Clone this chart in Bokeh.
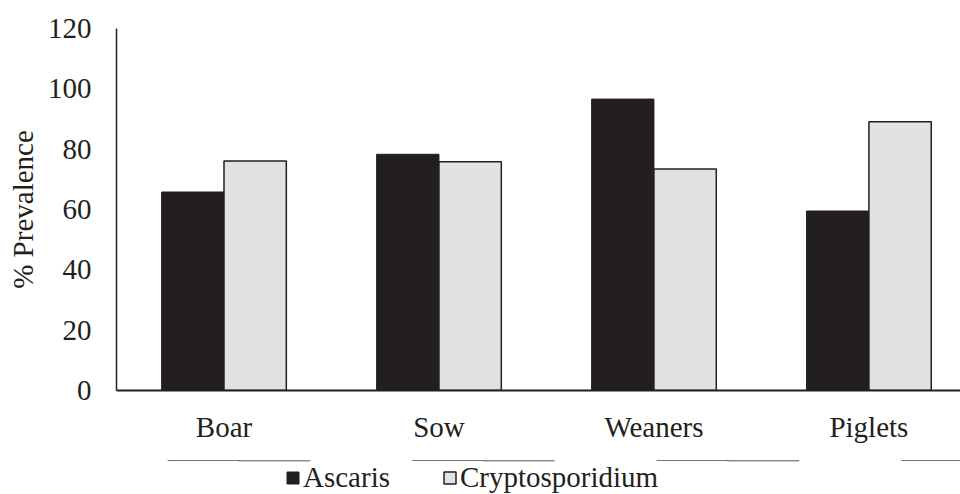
from bokeh.plotting import figure
from bokeh.layouts import column
from bokeh.models import ColumnDataSource, Range1d, FixedTicker, Legend, LegendItem
from bokeh.embed import file_html
from bokeh.resources import INLINE

# Prevalence (%) by pig age group
groups = ["Boar", "Sow", "Weaners", "Piglets"]
ascaris = [65.8, 78.3, 96.6, 59.5]
cryptosporidium = [76.1, 75.8, 73.4, 89.1]
y_ticks = [0, 20, 40, 60, 80, 100, 120]
series_names = ["Ascaris", "Cryptosporidium"]

FONT = "Liberation Serif"
DARK = "#231f20"
LIGHT = "#e1e2e4"

centers = [i + 0.5 for i in range(len(groups))]
bar_w = 0.29
src = ColumnDataSource(dict(
    xa=[c - bar_w / 2 for c in centers],
    xc=[c + bar_w / 2 for c in centers],
    ascaris=ascaris,
    crypto=cryptosporidium,
))

p = figure(frame_width=844, frame_height=362, output_backend="svg", toolbar_location=None,
           x_range=Range1d(0, 3.926), y_range=Range1d(0, 120),
           min_border_left=116, min_border_right=0, min_border_top=28,
           min_border_bottom=70)

bar_a = dict(fill_color=DARK, line_color=DARK, line_width=1)
bar_c = dict(fill_color=LIGHT, line_color=DARK, line_width=1.5)
p.vbar(x="xa", top="ascaris", width=bar_w, source=src, **bar_a)
p.vbar(x="xc", top="crypto", width=bar_w, source=src, **bar_c)

p.grid.visible = False
p.outline_line_color = None
p.background_fill_color = "white"
p.border_fill_color = "white"

# y axis
p.yaxis.ticker = FixedTicker(ticks=y_ticks)
p.yaxis.major_tick_out = 0
p.yaxis.major_tick_in = 0
p.yaxis.minor_tick_out = 0
p.yaxis.minor_tick_in = 0
p.yaxis.axis_line_color = DARK
p.yaxis.axis_line_width = 1.5
p.yaxis.major_label_text_font = FONT
p.yaxis.major_label_text_font_size = "29px"
p.yaxis.major_label_text_color = DARK
p.yaxis.major_label_standoff = 25
p.yaxis.axis_label = "% Prevalence"
p.yaxis.axis_label_text_font = FONT
p.yaxis.axis_label_text_font_size = "29px"
p.yaxis.axis_label_text_font_style = "normal"
p.yaxis.axis_label_text_color = DARK
p.yaxis.axis_label_standoff = 6

# x axis with group names
p.xaxis.ticker = FixedTicker(ticks=centers)
p.xaxis.major_label_overrides = {c: g for c, g in zip(centers, groups)}
p.xaxis.major_tick_out = 0
p.xaxis.major_tick_in = 0
p.xaxis.minor_tick_out = 0
p.xaxis.minor_tick_in = 0
p.xaxis.axis_line_color = DARK
p.xaxis.axis_line_width = 2
p.xaxis.major_label_text_font = FONT
p.xaxis.major_label_text_font_size = "29px"
p.xaxis.major_label_text_color = DARK
p.xaxis.major_label_standoff = 20

# legend strip beneath the chart; its key renderers share the bar data but
# the strip's y range lies far below zero so the bars and their outlines
# stay well off the canvas
leg = figure(frame_width=960, frame_height=34, output_backend="svg", toolbar_location=None,
             x_range=Range1d(0, 3.926), y_range=Range1d(-1000, -999),
             x_axis_location=None, y_axis_location=None,
             min_border_left=0, min_border_right=0, min_border_top=0, min_border_bottom=0)
leg.grid.visible = False
leg.outline_line_color = None
leg.background_fill_color = "white"
leg.border_fill_color = "white"
key_a = leg.vbar(x="xa", top="ascaris", width=bar_w, source=src, **bar_a)
key_c = leg.vbar(x="xc", top="crypto", width=bar_w, source=src, **bar_c)

legend = Legend(items=[LegendItem(label=series_names[0], renderers=[key_a]),
                       LegendItem(label=series_names[1], renderers=[key_c])],
                orientation="horizontal", location=(285, 0),
                label_text_font=FONT, label_text_font_size="29px",
                label_text_color=DARK, glyph_width=15, glyph_height=15,
                label_standoff=3, spacing=52, padding=0, margin=0,
                border_line_color=None, background_fill_alpha=0)
leg.add_layout(legend, "center")

layout = column(p, leg, spacing=0)
open("out.html", "w").write(file_html(layout, INLINE))
